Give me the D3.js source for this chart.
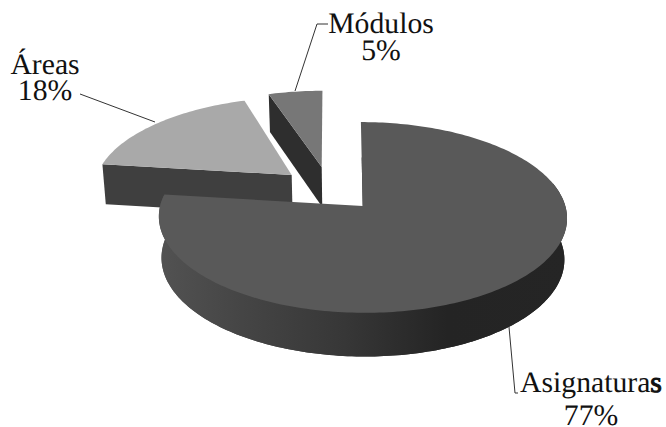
<!DOCTYPE html>
<html><head><meta charset="utf-8">
<script src="https://cdnjs.cloudflare.com/ajax/libs/d3/7.9.0/d3.min.js"></script>
<style>html,body{margin:0;background:#fff}svg{display:block}text{text-rendering:geometricPrecision}</style></head>
<body><svg id="c" width="666" height="427"></svg>
<script>
const categories = ["Asignaturas", "Áreas", "Módulos"];
const values = [77, 18, 5];

// Perspective camera for the tilted disc (unit circle on the ground plane)
const cam = {cx: 362.7, cy: 206, rx: 202.6, ry: 94, k: 0.12, depth: 41, shrink: 0.013};
// Slice pull-out and shear on the ground plane, in radii
const pull = [[0, 0], [-0.365, 0.344], [-0.213, 0.437]];
const shear = [-0.01, 0, -0.02];
const topFill = ["#595959", "#a9a9a9", "#777777"];
const sideFill = ["url(#wall)", "#3f3f3f", "#2e2e2e"];

const svg = d3.select("#c");
const sx = d3.scaleLinear().domain([0, 1]).range([cam.cx, cam.cx + cam.rx]);
const sy = d3.scaleLinear().domain([0, 1]).range([cam.cy, cam.cy - cam.ry]);
const sz = d3.scaleLinear().domain([0, 1]).range([0, cam.depth]);

function project(i, a, r, z) {
  const lx = Math.sin(a) * r, ly = Math.cos(a) * r;
  const X = lx + pull[i][0] + shear[i] * ly, Y = ly + pull[i][1];
  const w = 1 + cam.k * Y, s = 1 - cam.shrink * z;
  return [sx(X / w * s), sy(Y / w) + sz(z) / Math.sqrt(w)];
}
const line = d3.line();
function rim(i, a0, a1, z, r = 1) {
  const n = Math.max(2, Math.ceil(Math.abs(a1 - a0) / 0.02));
  return d3.range(n + 1).map(j => project(i, a0 + (a1 - a0) * j / n, r, z));
}

const arcs = d3.pie().sort(null).startAngle(0).endAngle(2 * Math.PI)(values);

const grad = svg.append("defs").append("linearGradient").attr("id", "wall")
  .attr("gradientUnits", "userSpaceOnUse").attr("x1", 160).attr("x2", 570).attr("y1", 0).attr("y2", 0);
[[0, "#525252"], [0.2, "#454545"], [0.45, "#373737"], [0.7, "#242424"], [1, "#252525"]]
  .forEach(([o, c]) => grad.append("stop").attr("offset", o).attr("stop-color", c));

// Leader lines
const leaders = [
  [[509, 327], [515, 393], [518, 393]],
  [[155, 122], [80, 94]],
  [[295, 91], [317, 24], [328, 24]]
];
svg.selectAll("path.leader").data(leaders).join("path").attr("class", "leader")
  .attr("d", line).attr("fill", "none").attr("stroke", "#333").attr("stroke-width", 1);

// Back slices first, the large slice last
[2, 1, 0].forEach(i => {
  const d = arcs[i];
  if (i === 0) {
    const a0 = Math.PI * 0.42, a1 = d.endAngle;
    // The wall also runs just inside the rim so that no light seam shows under the face
    svg.append("path").attr("d", line(rim(0, a0, a1, 0, 0.96).concat(rim(0, a1, a0, 1))) + "Z")
      .attr("fill", sideFill[0]);
    svg.append("path").attr("d", line(rim(0, a0, a1, 0).concat(rim(0, a1, a0, 1))) + "Z")
      .attr("fill", sideFill[0]);
    svg.append("path").attr("d", line([project(0, 0, 0.55, 0), project(0, 0, 0, 0)]))
      .attr("fill", "none").attr("stroke", "#2a2a2a").attr("stroke-width", 1.2)
      .attr("transform", "translate(0.6,0)");
  } else {
    const cut = [project(i, d.startAngle, 1, 0), project(i, 0, 0, 0), project(i, 0, 0, 1), project(i, d.startAngle, 1, 1)];
    svg.append("path").attr("d", line(cut) + "Z").attr("fill", sideFill[i]);
  }
  const face = [project(i, 0, 0, 0)].concat(rim(i, d.startAngle, d.endAngle, 0));
  svg.append("path").attr("d", line(face) + "Z").attr("fill", topFill[i]);
});

// Labels
const labelPos = [
  {x: 591, y1: 392, y2: 425},
  {x: 45, y1: 74, y2: 100},
  {x: 381, y1: 33, y2: 60}
];
const labels = svg.append("g").attr("font-family", "'Liberation Serif', serif")
  .attr("font-size", 29.7).attr("fill", "#111").attr("text-anchor", "middle");
categories.forEach((name, i) => {
  const t = labels.append("text").attr("x", labelPos[i].x).attr("y", labelPos[i].y1);
  if (i === 0) {
    t.append("tspan").text(name.slice(0, -1));
    t.append("tspan").attr("stroke", "#111").attr("stroke-width", 1.1).text(name.slice(-1));
  } else t.text(name);
  labels.append("text").attr("x", labelPos[i].x).attr("y", labelPos[i].y2).text(values[i] + "%");
});
</script></body></html>
